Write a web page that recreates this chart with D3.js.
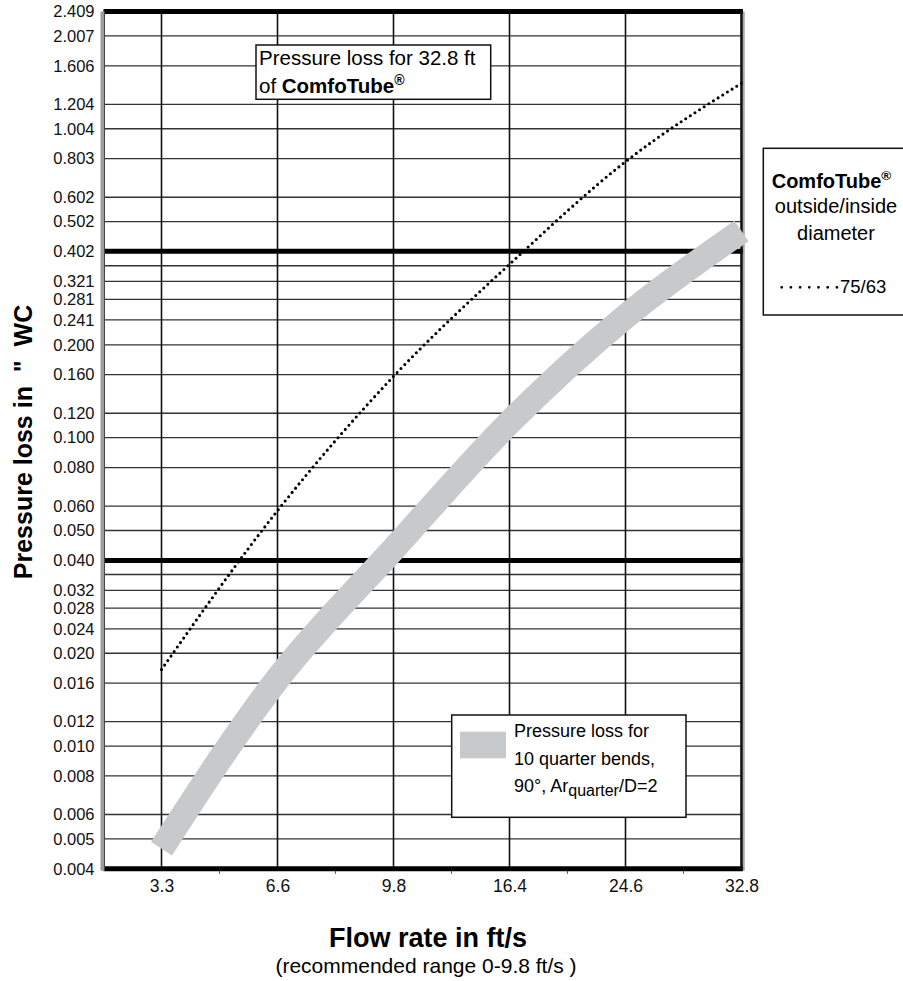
<!DOCTYPE html>
<html>
<head>
<meta charset="utf-8">
<script src="https://cdn.jsdelivr.net/npm/d3@7"></script>
<style>
  body { margin: 0; background: #fff; }
  svg { display: block; font-family: "Liberation Sans", Arial, Helvetica, sans-serif; }
</style>
</head>
<body>
<div id="vis"></div>
<script>
const FRAME_WIDTH = 903;
const FRAME_HEIGHT = 981;

// data
const flowLabels = ["3.3", "6.6", "9.8", "16.4", "24.6", "32.8"];
const yTickLabels = ["0.004", "0.005", "0.006", "0.008", "0.010", "0.012", "0.016", "0.020",
  "0.024", "0.028", "0.032", "0.040", "0.050", "0.060", "0.080", "0.100", "0.120", "0.160",
  "0.200", "0.241", "0.281", "0.321", "0.402", "0.502", "0.602", "0.803", "1.004", "1.204",
  "1.606", "2.007", "2.409"];
const unlabeledLines = [0.036, 0.361];
const heavyLines = [0.040, 0.402];
const tubeLoss = [0.0177, 0.058, 0.158, 0.365, 0.785, 1.41];     // 32.8 ft ComfoTube 75/63
const bendLoss = [0.00465, 0.0165, 0.0435, 0.112, 0.247, 0.468]; // 10 quarter bends

const yTickValues = yTickLabels.map(Number);

const svg = d3.select("#vis")
  .append("svg")
    .attr("width", FRAME_WIDTH)
    .attr("height", FRAME_HEIGHT);

const x = d3.scalePoint()
  .domain(flowLabels)
  .range([161.5, 741.5]);

const y = d3.scaleLog()
  .domain([0.004, 2.409])
  .range([868.8, 11.5]);

const LEFT = x(flowLabels[0]) - x.step() / 2;
const RIGHT = x(flowLabels[flowLabels.length - 1]);
const TOP = y(2.409);
const BOTTOM = y(0.004);

// horizontal grid
svg.append("g")
  .selectAll("line")
  .data(yTickValues.concat(unlabeledLines))
  .enter()
  .append("line")
    .attr("x1", LEFT)
    .attr("x2", RIGHT)
    .attr("y1", d => y(d))
    .attr("y2", d => y(d))
    .attr("stroke", "#333")
    .attr("stroke-width", 1.3);

// vertical grid
svg.append("g")
  .selectAll("line")
  .data(flowLabels.slice(0, -1))
  .enter()
  .append("line")
    .attr("x1", d => x(d))
    .attr("x2", d => x(d))
    .attr("y1", TOP)
    .attr("y2", BOTTOM)
    .attr("stroke", "#111")
    .attr("stroke-width", 1.6);

// heavy decade lines + top / bottom frame
svg.append("g")
  .selectAll("line")
  .data(heavyLines.concat([2.409, 0.004]))
  .enter()
  .append("line")
    .attr("x1", LEFT)
    .attr("x2", RIGHT + 1.5)
    .attr("y1", d => y(d))
    .attr("y2", d => y(d))
    .attr("stroke", "#000")
    .attr("stroke-width", 5);

// left and right frame
svg.append("line")
  .attr("x1", LEFT - 1).attr("x2", LEFT - 1)
  .attr("y1", TOP).attr("y2", BOTTOM + 2)
  .attr("stroke", "#9c9c9c").attr("stroke-width", 4);
svg.append("line")
  .attr("x1", LEFT + 1).attr("x2", LEFT + 1)
  .attr("y1", TOP).attr("y2", BOTTOM)
  .attr("stroke", "#444").attr("stroke-width", 1);
svg.append("line")
  .attr("x1", RIGHT + 2.3).attr("x2", RIGHT + 2.3)
  .attr("y1", TOP).attr("y2", BOTTOM + 2)
  .attr("stroke", "#aaa").attr("stroke-width", 2);
svg.append("line")
  .attr("x1", RIGHT).attr("x2", RIGHT)
  .attr("y1", TOP - 2).attr("y2", BOTTOM + 2)
  .attr("stroke", "#111").attr("stroke-width", 2.6);

// half-step ticks under the x axis
svg.append("g")
  .selectAll("line")
  .data(flowLabels.slice(1))
  .enter()
  .append("line")
    .attr("x1", d => x(d) - x.step() / 2)
    .attr("x2", d => x(d) - x.step() / 2)
    .attr("y1", BOTTOM + 2)
    .attr("y2", BOTTOM + 5)
    .attr("stroke", "#555")
    .attr("stroke-width", 1);

const line = d3.line()
  .x(d => x(d[0]))
  .y(d => y(d[1]))
  .curve(d3.curveMonotoneX);

// gray band: bends
svg.append("path")
  .datum(flowLabels.map((f, i) => [f, bendLoss[i]]))
  .attr("d", line)
  .attr("fill", "none")
  .attr("stroke", "#c8c9cb")
  .attr("stroke-width", 25)
  .attr("stroke-linecap", "butt");

// dotted: tube
svg.append("path")
  .datum(flowLabels.map((f, i) => [f, tubeLoss[i]]))
  .attr("d", line)
  .attr("fill", "none")
  .attr("stroke", "#000")
  .attr("stroke-width", 3.1)
  .attr("stroke-linecap", "round")
  .attr("stroke-dasharray", "0 5.5");

// y axis labels
const yAxis = svg.append("g")
  .attr("transform", "translate(" + LEFT + ",0)")
  .call(d3.axisLeft(y).tickValues(yTickValues).tickFormat(d3.format(".3f")).tickSize(0).tickPadding(9));
yAxis.select(".domain").remove();
yAxis.selectAll("text")
  .attr("font-family", "Liberation Sans, Arial, sans-serif")
  .attr("font-size", 16.5)
  .attr("fill", "#111");

// x axis labels
const xAxis = svg.append("g")
  .attr("transform", "translate(0," + BOTTOM + ")")
  .call(d3.axisBottom(x).tickSize(0));
xAxis.select(".domain").remove();
xAxis.selectAll("text")
  .attr("y", 891.7 - BOTTOM)
  .attr("dy", 0)
  .attr("font-family", "Liberation Sans, Arial, sans-serif")
  .attr("font-size", 17.5)
  .attr("fill", "#111");

// axis titles
svg.append("text")
  .attr("transform", "translate(31.5,442) rotate(-90)")
  .attr("text-anchor", "middle")
  .attr("font-size", 25)
  .attr("font-weight", "bold")
  .text("Pressure loss in \u00a0\"\u00a0 WC");

svg.append("text")
  .attr("x", 428)
  .attr("y", 947.3)
  .attr("text-anchor", "middle")
  .attr("font-size", 27)
  .attr("font-weight", "bold")
  .text("Flow rate in ft/s");

svg.append("text")
  .attr("x", 426)
  .attr("y", 972.7)
  .attr("text-anchor", "middle")
  .attr("font-size", 21)
  .text("(recommended range 0-9.8 ft/s )");

// legend: 32.8 ft tube
svg.append("rect")
  .attr("x", 256).attr("y", 45)
  .attr("width", 234.7).attr("height", 54.3)
  .attr("fill", "#fff").attr("stroke", "#111").attr("stroke-width", 1.5);
svg.append("text")
  .attr("x", 259).attr("y", 65)
  .attr("font-size", 20.5)
  .text("Pressure loss for 32.8 ft");
const l1 = svg.append("text")
  .attr("x", 259).attr("y", 92.7)
  .attr("font-size", 20.5);
l1.append("tspan").text("of ");
l1.append("tspan").attr("font-weight", "bold").text("ComfoTube");
l1.append("tspan").attr("font-weight", "bold").attr("font-size", 14).attr("dy", -8).text("®");

// legend: tube diameter
svg.append("rect")
  .attr("x", 763.3).attr("y", 148.3)
  .attr("width", 160).attr("height", 166.7)
  .attr("fill", "#fff").attr("stroke", "#111").attr("stroke-width", 1.5);
const l2 = svg.append("text")
  .attr("x", 771.7).attr("y", 188.3)
  .attr("font-size", 20)
  .attr("font-weight", "bold");
l2.append("tspan").text("ComfoTube");
l2.append("tspan").attr("font-size", 13.5).attr("dy", -8).text("®");
svg.append("text")
  .attr("x", 836).attr("y", 213.3)
  .attr("text-anchor", "middle")
  .attr("font-size", 20)
  .text("outside/inside");
svg.append("text")
  .attr("x", 836).attr("y", 240)
  .attr("text-anchor", "middle")
  .attr("font-size", 20)
  .text("diameter");
svg.append("line")
  .attr("x1", 781.7).attr("x2", 838)
  .attr("y1", 287.3).attr("y2", 287.3)
  .attr("stroke", "#000").attr("stroke-width", 2.8)
  .attr("stroke-linecap", "round")
  .attr("stroke-dasharray", "0 9.2");
svg.append("text")
  .attr("x", 840).attr("y", 293.3)
  .attr("font-size", 18.5)
  .text("75/63");

// legend: bends
svg.append("rect")
  .attr("x", 451.7).attr("y", 715)
  .attr("width", 234.3).attr("height", 102.3)
  .attr("fill", "#fff").attr("stroke", "#111").attr("stroke-width", 1.5);
svg.append("rect")
  .attr("x", 460).attr("y", 731.7)
  .attr("width", 46).attr("height", 26.6)
  .attr("fill", "#c8c9cb");
const bendText = ["Pressure loss for", "10 quarter bends,"];
svg.append("g")
  .selectAll("text")
  .data(bendText)
  .enter()
  .append("text")
    .attr("x", 514)
    .attr("y", (d, i) => 736.7 + i * 28.3)
    .attr("font-size", 18)
    .text(d => d);
const l3 = svg.append("text")
  .attr("x", 514).attr("y", 791.7)
  .attr("font-size", 18);
l3.append("tspan").text("90°, Ar");
l3.append("tspan").attr("font-size", 16).attr("dy", 4).text("quarter");
l3.append("tspan").attr("dy", -4).text("/D=2");
</script>
</body>
</html>
